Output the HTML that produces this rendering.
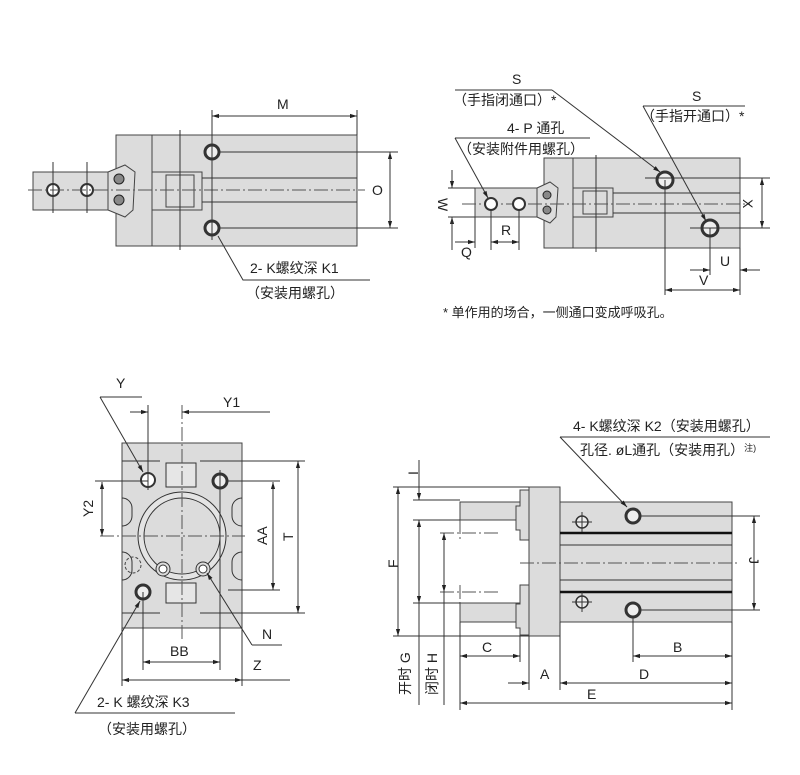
<!DOCTYPE html>
<html><head><meta charset="utf-8"><style>
body{margin:0;background:#fff}
svg{display:block}
text{font-family:"Liberation Sans","Noto Sans CJK SC",sans-serif;fill:#222;font-size:14px}
.g{fill:#dcdcdc;stroke:#444;stroke-width:1}
.l{stroke:#333;stroke-width:1;fill:none}
.c{stroke:#555;stroke-width:1;fill:none;stroke-dasharray:14 3 2 3}
.h{fill:#fff;stroke:#333;stroke-width:2}
.hb{fill:#eee;stroke:#333;stroke-width:3}
</style></head><body>
<svg width="800" height="775" viewBox="0 0 800 775">
<defs><marker id="a" viewBox="0 0 10 10" refX="10" refY="5" markerWidth="9" markerHeight="7" orient="auto-start-reverse"><path d="M0,2 L10,5 L0,8z" fill="#222"/></marker></defs>

<!-- VIEW 1 -->
<rect class="g" x="116" y="135" width="40" height="111"/>
<rect class="g" x="152" y="135" width="205" height="111"/>
<rect class="g" x="33" y="172" width="78" height="38"/>
<path class="g" d="M108,172 L125,165 L135,172 L133,210 L125,217 L108,210z"/>
<circle cx="119" cy="179" r="5" fill="#888" stroke="#222"/><circle cx="119" cy="200" r="5" fill="#888" stroke="#222"/>
<rect class="g" x="152" y="172" width="50" height="38"/>
<rect class="g" x="166" y="175" width="28" height="32"/>
<circle class="h" cx="53" cy="190" r="6"/><circle class="h" cx="87" cy="190" r="6"/>
<circle class="hb" cx="212" cy="152" r="7"/><circle class="hb" cx="212" cy="228" r="7"/>
<line class="l" x1="202" y1="178" x2="357" y2="178"/><line class="l" x1="202" y1="202" x2="357" y2="202"/>
<line class="c" x1="28" y1="190" x2="365" y2="190"/>
<line class="l" x1="53" y1="162" x2="53" y2="213"/><line class="l" x1="87" y1="162" x2="87" y2="213"/><line class="l" x1="180" y1="130" x2="180" y2="250"/>
<line class="l" x1="212" y1="110" x2="212" y2="240"/><line class="l" x1="357" y1="110" x2="357" y2="135"/>
<line class="l" x1="212" y1="116" x2="357" y2="116" marker-start="url(#a)" marker-end="url(#a)"/>
<text x="277" y="109">M</text>
<line class="l" x1="218" y1="152" x2="398" y2="152"/><line class="l" x1="218" y1="228" x2="398" y2="228"/>
<line class="l" x1="390" y1="152" x2="390" y2="228" marker-start="url(#a)" marker-end="url(#a)"/>
<text x="372" y="195">O</text>
<polyline class="l" points="218,236 243,280 370,280"/>
<text x="250" y="273">2- K螺纹深 K1</text><text x="246" y="298">（安装用螺孔）</text>

<!-- VIEW 2 -->
<rect class="g" x="544" y="158" width="29" height="90"/><rect class="g" x="573" y="158" width="167" height="90"/>
<rect class="g" x="475" y="188" width="62" height="29"/>
<path class="g" d="M537,188 L550,182 L558,188 L556,217 L550,223 L537,217z"/>
<circle cx="547" cy="195" r="4" fill="#888" stroke="#222"/><circle cx="547" cy="210" r="4" fill="#888" stroke="#222"/>
<rect class="g" x="573" y="188" width="40" height="29"/><rect class="g" x="583" y="191" width="24" height="23"/>
<line class="l" x1="596" y1="155" x2="596" y2="252"/>
<line class="l" x1="613" y1="193" x2="740" y2="193"/><line class="l" x1="613" y1="213" x2="740" y2="213"/>
<line class="c" x1="462" y1="204" x2="750" y2="204"/>
<circle class="h" cx="491" cy="204" r="6"/><circle class="h" cx="519" cy="204" r="6"/>
<circle class="hb" cx="665" cy="180" r="8"/><circle class="hb" cx="710" cy="228" r="8"/>
<line class="l" x1="645" y1="178" x2="770" y2="178"/><line class="l" x1="690" y1="228" x2="770" y2="228"/>
<line class="l" x1="762" y1="178" x2="762" y2="228" marker-start="url(#a)" marker-end="url(#a)"/>
<text x="743" y="209" transform="rotate(90 748 204)">X</text>
<line class="l" x1="448" y1="188" x2="475" y2="188"/><line class="l" x1="448" y1="217" x2="475" y2="217"/>
<line class="l" x1="452" y1="170" x2="452" y2="188" marker-end="url(#a)"/><line class="l" x1="452" y1="235" x2="452" y2="217" marker-end="url(#a)"/>
<text x="437" y="209" transform="rotate(90 443 204)">W</text>
<line class="l" x1="452" y1="217" x2="452" y2="250"/><line class="l" x1="475" y1="217" x2="475" y2="248"/>
<line class="l" x1="491" y1="210" x2="491" y2="250"/><line class="l" x1="519" y1="210" x2="519" y2="250"/>
<line class="l" x1="455" y1="242" x2="475" y2="242" marker-end="url(#a)"/><line class="l" x1="491" y1="242" x2="519" y2="242" marker-start="url(#a)" marker-end="url(#a)"/>
<text x="501" y="235">R</text><text x="461" y="257">Q</text>
<line class="l" x1="665" y1="180" x2="665" y2="295"/><line class="l" x1="710" y1="228" x2="710" y2="275"/><line class="l" x1="740" y1="248" x2="740" y2="295"/>
<line class="l" x1="690" y1="270" x2="710" y2="270" marker-end="url(#a)"/><line class="l" x1="760" y1="270" x2="740" y2="270" marker-end="url(#a)"/>
<text x="720" y="266">U</text>
<line class="l" x1="665" y1="290" x2="740" y2="290" marker-start="url(#a)" marker-end="url(#a)"/>
<text x="699" y="285">V</text>
<text x="512" y="84">S</text><line class="l" x1="455" y1="90" x2="552" y2="90"/>
<text x="453" y="105">（手指闭通口）*</text>
<line class="l" x1="552" y1="90" x2="660" y2="172" marker-end="url(#a)"/>
<text x="692" y="101">S</text><line class="l" x1="643" y1="106" x2="745" y2="106"/>
<text x="641" y="121">（手指开通口）*</text>
<line class="l" x1="643" y1="106" x2="706" y2="221" marker-end="url(#a)"/>
<text x="507" y="133">4- P 通孔</text><line class="l" x1="455" y1="138" x2="590" y2="138"/>
<text x="458" y="154">（安装附件用螺孔）</text>
<line class="l" x1="455" y1="138" x2="488" y2="198" marker-end="url(#a)"/>
<text x="443" y="317" style="font-size:13px">* 单作用的场合，一侧通口变成呼吸孔。</text>

<!-- VIEW 3 -->
<rect class="g" x="122" y="443" width="120" height="185"/>
<line class="l" x1="122" y1="461" x2="160" y2="461"/><line class="l" x1="200" y1="461" x2="242" y2="461"/>
<line class="l" x1="122" y1="613" x2="160" y2="613"/><line class="l" x1="200" y1="613" x2="242" y2="613"/>
<rect x="166" y="463" width="30" height="24" fill="#e6e6e6" stroke="#333"/>
<rect x="166" y="583" width="30" height="20" fill="#e6e6e6" stroke="#333"/>
<path d="M122,498 a10,10 0 0 1 10,10 v8 a10,10 0 0 1 -10,10 M242,498 a10,10 0 0 0 -10,10 v8 a10,10 0 0 0 10,10 M122,552 a10,10 0 0 1 10,10 v8 a10,10 0 0 1 -10,10 M242,552 a10,10 0 0 0 -10,10 v8 a10,10 0 0 0 10,10" class="l"/>
<circle cx="182" cy="536" r="44" fill="#e4e4e4" stroke="#333"/>
<circle cx="182" cy="536" r="38" fill="#dcdcdc" stroke="#333"/>
<circle cx="163" cy="569" r="7" fill="#dcdcdc" stroke="#333"/><circle cx="203" cy="569" r="7" fill="#dcdcdc" stroke="#333"/>
<circle cx="163" cy="569" r="4" fill="#fff" stroke="#333"/><circle cx="203" cy="569" r="4" fill="#fff" stroke="#333"/>
<circle class="h" cx="148" cy="480" r="7" stroke-width="1"/>
<circle class="hb" cx="220" cy="481" r="7"/><circle class="hb" cx="143" cy="592" r="7"/>
<circle cx="133" cy="565" r="8" fill="none" stroke="#444" stroke-dasharray="3 2"/>
<line class="c" x1="182" y1="405" x2="182" y2="640"/><line class="c" x1="100" y1="536" x2="245" y2="536"/>
<line class="l" x1="148" y1="405" x2="148" y2="490"/><line class="l" x1="220" y1="470" x2="220" y2="670"/><line class="l" x1="143" y1="592" x2="143" y2="670"/>
<line class="l" x1="130" y1="412" x2="148" y2="412" marker-end="url(#a)"/><line class="l" x1="270" y1="412" x2="182" y2="412" marker-end="url(#a)"/>
<text x="223" y="407">Y1</text>
<text x="116" y="388">Y</text><line class="l" x1="100" y1="397" x2="142" y2="397"/>
<line class="l" x1="100" y1="397" x2="143" y2="472" marker-end="url(#a)"/>
<line class="l" x1="95" y1="481" x2="148" y2="481"/>
<line class="l" x1="102" y1="482" x2="102" y2="536" marker-start="url(#a)" marker-end="url(#a)"/>
<text x="81" y="515" transform="rotate(-90 88 510)">Y2</text>
<line class="l" x1="228" y1="481" x2="280" y2="481"/><line class="l" x1="228" y1="590" x2="280" y2="590"/>
<line class="l" x1="273" y1="482" x2="273" y2="590" marker-start="url(#a)" marker-end="url(#a)"/>
<text x="253" y="541" transform="rotate(-90 262 536)">AA</text>
<line class="l" x1="242" y1="461" x2="305" y2="461"/><line class="l" x1="242" y1="613" x2="305" y2="613"/>
<line class="l" x1="298" y1="461" x2="298" y2="613" marker-start="url(#a)" marker-end="url(#a)"/>
<text x="283" y="541" transform="rotate(-90 288 536)">T</text>
<line class="l" x1="122" y1="628" x2="122" y2="686"/><line class="l" x1="242" y1="628" x2="242" y2="686"/>
<line class="l" x1="143" y1="662" x2="220" y2="662" marker-start="url(#a)" marker-end="url(#a)"/>
<text x="170" y="656">BB</text>
<line class="l" x1="122" y1="680" x2="242" y2="680" marker-start="url(#a)" marker-end="url(#a)"/>
<line class="l" x1="242" y1="680" x2="290" y2="680"/>
<text x="253" y="670">Z</text>
<text x="262" y="639">N</text><line class="l" x1="252" y1="645" x2="282" y2="645"/>
<line class="l" x1="252" y1="645" x2="207" y2="573" marker-end="url(#a)"/>
<text x="97" y="707">2- K 螺纹深 K3</text><line class="l" x1="75" y1="713" x2="235" y2="713"/>
<text x="98" y="734">（安装用螺孔）</text>
<line class="l" x1="75" y1="713" x2="140" y2="601" marker-end="url(#a)"/>

<!-- VIEW 4 -->
<rect class="g" x="460" y="502" width="62" height="18"/><rect class="g" x="460" y="603" width="62" height="19"/>
<path class="g" d="M520,490 h9 v50 h-9 v-10 h-4 v-24 h4z"/>
<path class="g" d="M520,585 h9 v50 h-9 v-7 h-4 v-24 h4z"/>
<rect class="g" x="529" y="487" width="31" height="149"/>
<rect class="g" x="560" y="502" width="172" height="120"/>
<line x1="560" y1="533" x2="732" y2="533" stroke="#111" stroke-width="2.5"/><line x1="560" y1="592" x2="732" y2="592" stroke="#111" stroke-width="2.5"/>
<line class="l" x1="560" y1="545" x2="732" y2="545"/><line class="l" x1="560" y1="580" x2="732" y2="580"/>
<line class="c" x1="520" y1="563" x2="740" y2="563"/>
<line class="c" x1="440" y1="533" x2="500" y2="533"/><line class="c" x1="440" y1="592" x2="500" y2="592"/>
<line class="c" x1="460" y1="520" x2="460" y2="540"/><line class="c" x1="460" y1="585" x2="460" y2="603"/>
<circle class="hb" cx="633" cy="516" r="7" stroke-width="2.5"/><circle class="hb" cx="633" cy="610" r="7" stroke-width="2.5"/>
<circle cx="582" cy="522" r="6" fill="#eee" stroke="#333" stroke-width="1.5"/><circle cx="582" cy="602" r="6" fill="#eee" stroke="#333" stroke-width="1.5"/>
<path class="l" d="M572,522h20M582,512v20M572,602h20M582,592v20"/>
<line class="l" x1="641" y1="516" x2="760" y2="516"/><line class="l" x1="641" y1="610" x2="760" y2="610"/>
<line class="l" x1="754" y1="516" x2="754" y2="610" marker-start="url(#a)" marker-end="url(#a)"/>
<text x="748" y="568" transform="rotate(90 754 563)">J</text>
<line class="l" x1="393" y1="487" x2="529" y2="487"/><line class="l" x1="393" y1="636" x2="529" y2="636"/>
<line class="l" x1="398" y1="487" x2="398" y2="636" marker-start="url(#a)" marker-end="url(#a)"/>
<text x="388" y="568" transform="rotate(-90 393 563)">F</text>
<line class="l" x1="413" y1="500" x2="460" y2="500"/><line class="l" x1="413" y1="520" x2="460" y2="520"/><line class="l" x1="413" y1="603" x2="460" y2="603"/>
<line class="l" x1="419" y1="460" x2="419" y2="500" marker-end="url(#a)"/><line class="l" x1="419" y1="520" x2="419" y2="705"/>
<line class="l" x1="419" y1="520" x2="419" y2="603" marker-start="url(#a)" marker-end="url(#a)"/>
<text x="408" y="475" transform="rotate(-90 413 470)">I</text>
<line class="l" x1="444" y1="533" x2="444" y2="705"/>
<line class="l" x1="444" y1="533" x2="444" y2="592" marker-start="url(#a)" marker-end="url(#a)"/>
<text x="390" y="685" transform="rotate(-90 405 680)">开时 G</text>
<text x="417" y="685" transform="rotate(-90 432 680)">闭时 H</text>
<line class="l" x1="460" y1="622" x2="460" y2="710"/><line class="l" x1="520" y1="636" x2="520" y2="662"/>
<line class="l" x1="529" y1="636" x2="529" y2="690"/><line class="l" x1="560" y1="622" x2="560" y2="690"/>
<line class="l" x1="633" y1="617" x2="633" y2="662"/><line class="l" x1="732" y1="622" x2="732" y2="710"/>
<line class="l" x1="460" y1="656" x2="520" y2="656" marker-start="url(#a)" marker-end="url(#a)"/><text x="482" y="652">C</text>
<line class="l" x1="508" y1="683" x2="529" y2="683" marker-end="url(#a)"/><text x="540" y="679">A</text>
<line class="l" x1="560" y1="683" x2="732" y2="683" marker-start="url(#a)" marker-end="url(#a)"/><text x="639" y="679">D</text>
<line class="l" x1="633" y1="656" x2="732" y2="656" marker-start="url(#a)" marker-end="url(#a)"/><text x="673" y="652">B</text>
<line class="l" x1="460" y1="703" x2="732" y2="703" marker-start="url(#a)" marker-end="url(#a)"/><text x="587" y="699">E</text>
<text x="573" y="431">4- K螺纹深 K2（安装用螺孔）</text>
<line class="l" x1="560" y1="437" x2="770" y2="437"/>
<text x="580" y="455">孔径. øL通孔（安装用孔）<tspan font-size="9" dy="-4">注)</tspan></text>
<line class="l" x1="560" y1="437" x2="627" y2="507" marker-end="url(#a)"/>
</svg>
</body></html>
